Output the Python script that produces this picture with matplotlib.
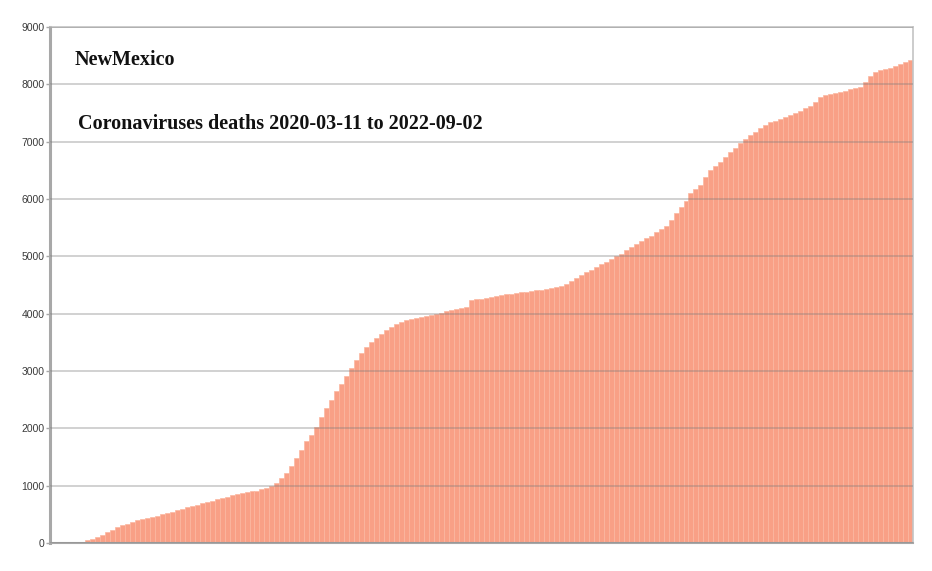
import numpy as np
import matplotlib.pyplot as plt

# cumulative deaths, New Mexico
deaths = [
    0, 0, 0, 0, 2, 5, 25, 45, 75, 105,
    145, 190, 235, 275, 310, 340, 375, 400, 425, 440,
    460, 475, 500, 520, 545, 575, 600, 625, 645, 670,
    695, 715, 735, 760, 780, 810, 835, 855, 870, 885,
    900, 915, 935, 960, 995, 1050, 1130, 1220, 1340, 1480,
    1630, 1780, 1890, 2030, 2190, 2350, 2500, 2650, 2780, 2920,
    3060, 3200, 3320, 3420, 3500, 3575, 3650, 3720, 3775, 3820,
    3855, 3884, 3901, 3919, 3936, 3954, 3971, 3988, 4012, 4041,
    4070, 4087, 4099, 4110, 4238, 4250, 4261, 4279, 4296, 4314,
    4325, 4337, 4349, 4360, 4372, 4383, 4395, 4407, 4418, 4430,
    4447, 4465, 4488, 4523, 4570, 4625, 4675, 4725, 4770, 4815,
    4860, 4910, 4955, 5000, 5046, 5104, 5162, 5215, 5261, 5319,
    5360, 5418, 5476, 5522, 5638, 5754, 5858, 5957, 6102, 6172,
    6247, 6392, 6508, 6583, 6653, 6740, 6827, 6885, 6972, 7050,
    7116, 7174, 7232, 7290, 7337, 7360, 7395, 7424, 7465, 7505,
    7540, 7581, 7622, 7697, 7773, 7813, 7831, 7842, 7860, 7883,
    7912, 7941, 7953, 8046, 8150, 8220, 8249, 8267, 8290, 8319,
    8354, 8383, 8430,
]
yticks = list(range(0, 9001, 1000))
state = "NewMexico"
subtitle = "Coronaviruses deaths 2020-03-11 to 2022-09-02"

fig = plt.figure(figsize=(9.32, 5.71), dpi=100)
ax = fig.add_axes([0.0536, 0.049, 0.926, 0.9037])

x = np.arange(len(deaths))
ax.bar(x, deaths, width=1.0, color="#f9a086", edgecolor="#fbb7a0",
       linewidth=0.5, zorder=2)

ax.set_xlim(-0.5, len(deaths) - 0.5)
ax.set_ylim(0, 9000)
ax.set_yticks(yticks)
ax.set_xticks([])
ax.yaxis.grid(True, color="#7a7a7a", alpha=0.4, linewidth=1.2, zorder=3)
ax.set_axisbelow(False)

for side in ["top", "right"]:
    ax.spines[side].set_color("#c4c4c4")
    ax.spines[side].set_linewidth(1.2)
ax.spines["left"].set_color("#a8a8a8")
ax.spines["left"].set_linewidth(2.2)
ax.spines["bottom"].set_color("#a8a8a8")
ax.spines["bottom"].set_linewidth(1.5)

ax.tick_params(axis="y", length=3, width=1, color="#a8a8a8",
               labelsize=7.5, labelcolor="#3a3a3a", pad=1)
for lab in ax.get_yticklabels():
    lab.set_family("Liberation Sans")

ax.text(0.029, 0.936, state, transform=ax.transAxes, ha="left", va="center",
        fontsize=14.5, fontweight="bold", family="Liberation Serif", color="#111111")
ax.text(0.0325, 0.812, subtitle, transform=ax.transAxes, ha="left", va="center",
        fontsize=14.5, fontweight="bold", family="Liberation Serif", color="#111111")

fig.savefig("out.png", dpi=100)
